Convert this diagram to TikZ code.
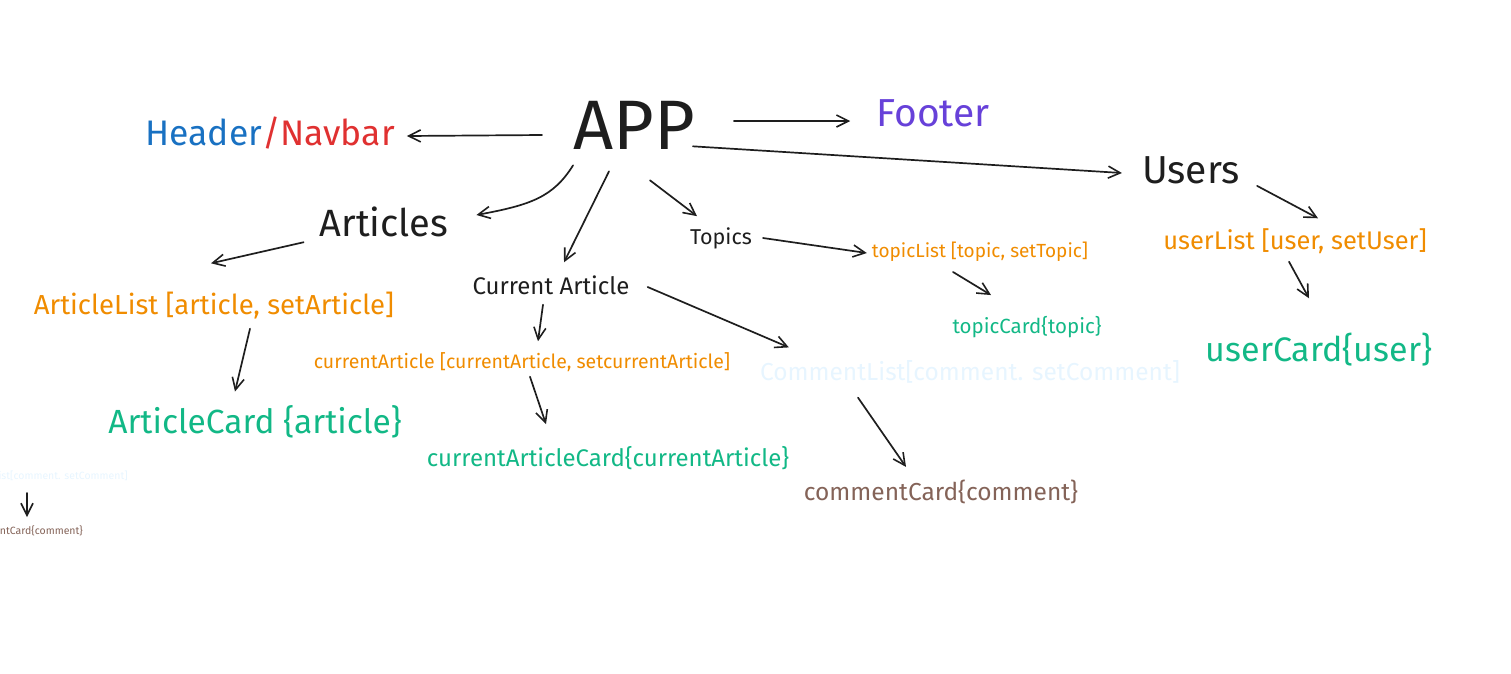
\documentclass[tikz,border=0pt]{standalone}
\usepackage{fontspec}
\setmainfont{Fira Sans}
\usepackage{xcolor}
\usepackage{tikz}
\usetikzlibrary{calc,arrows.meta}

\definecolor{ink}{HTML}{1E1E1E}
\definecolor{hblue}{HTML}{1971C2}
\definecolor{nred}{HTML}{E03131}
\definecolor{fpurple}{HTML}{6741D9}
\definecolor{lorange}{HTML}{F08C00}
\definecolor{cgreen}{HTML}{12B886}
\definecolor{cbrown}{HTML}{846358}
\definecolor{faint}{HTML}{E7F5FF}
\newcommand{\fsz}[1]{\fontsize{#1}{#1}\selectfont}

\begin{document}
\begin{tikzpicture}[x=1pt, y=-1pt,
		lbl/.style={inner sep=0pt, text=ink},
		arr/.style={draw=ink, line width=1.7pt, line cap=round,
			-{Straight Barb[length=12pt, width=12pt, line width=1.6pt]}}]
			\useasboundingbox (0,0) rectangle (1511,673);
			% top row
			\node[lbl, font=\fsz{70}] (app) at (634,125) {APP};
			\node[lbl, font=\fsz{35.5}] (header) at (270,133) {{\color{hblue}Header}{\color{nred}/Navbar}};
			\node[lbl, font=\fsz{39}, text=fpurple] (footer) at (933,113) {Footer};
			\node[lbl, font=\fsz{39}] (users) at (1191,170) {Users};
			% second row
			\node[lbl, font=\fsz{38}] (articles) at (384,222) {Articles};
			\node[lbl, font=\fsz{21.5}] (topics) at (721,238) {Topics};
			\node[lbl, font=\fsz{24}] (curart) at (551,285) {Current Article};
			% lists
			\node[lbl, font=\fsz{27.5}, text=lorange] (artlist) at (214,306) {ArticleList [article, setArticle]};
			\node[lbl, font=\fsz{19}, text=lorange] (topiclist) at (980,252) {topicList [topic, setTopic]};
			\node[lbl, font=\fsz{25.5}, text=lorange] (userlist) at (1295,241) {userList [user, setUser]};
			\node[lbl, font=\fsz{19.5}, text=lorange] (curlist) at (522,362) {currentArticle [currentArticle, setcurrentArticle]};
			\node[lbl, font=\fsz{24.5}, text=faint] (commentlist) at (970,372) {CommentList[comment. setComment]};
			% cards
			\node[lbl, font=\fsz{20.5}, text=cgreen] (topiccard) at (1027,327) {topicCard\{topic\}};
			\node[lbl, font=\fsz{34}, text=cgreen] (usercard) at (1319,350) {userCard\{user\}};
			\node[lbl, font=\fsz{33.5}, text=cgreen] (artcard) at (255,422) {ArticleCard \{article\}};
			\node[lbl, font=\fsz{24}, text=cgreen] (curcard) at (608,458) {currentArticleCard\{currentArticle\}};
			\node[lbl, font=\fsz{24.5}, text=cbrown] (commentcard) at (941,492) {commentCard\{comment\}};
			% small copy at the left edge
			\node[lbl, font=\fsz{10.5}, text=faint, anchor=east] (smalllist) at (128,476) {CommentList[comment. setComment]};
			\node[lbl, font=\fsz{10.5}, text=cbrown, anchor=east] (smallcard) at (83,531) {commentCard\{comment\}};

			% arrows
			\draw[arr] ($(app.west)+(-31,10)$) -- ($(header.east)+(12,3)$);
			\draw[arr] ($(app.east)+(39,-4)$) -- ($(footer.west)+(-26,8)$);
			\draw[arr] ($(app.south east)+(-2,-3)$) -- ($(users.west)+(-20,3)$);
			\draw[arr] ($(app.south west)+(0,16)$) .. controls +(-20,32) and +(54,-10) .. ($(articles.east)+(28,-7)$);
			\draw[arr] ($(app.south)+(-25,22)$) -- ($(curart.north)+(13,-13)$);
			\draw[arr] ($(app.south)+(16,31)$) -- ($(topics.north)+(-24,-11)$);
			\draw[arr] ($(articles.south west)+(-16,5)$) -- ($(artlist.north)+(-3,-29)$);
			\draw[arr] ($(topics.east)+(11,0)$) -- ($(topiclist.west)+(-5,1)$);
			\draw[arr] ($(users.south east)+(17,2)$) -- ($(userlist.north)+(23,-10)$);
			\draw[arr] ($(userlist.south)+(-6,8)$) -- ($(usercard.north)+(-10,-35)$);
			\draw[arr] ($(topiclist.south)+(-27,10)$) -- ($(topiccard.north)+(-36,-21)$);
			\draw[arr] ($(artlist.south)+(36,9)$) -- ($(artcard.north)+(-20,-14)$);
			\draw[arr] ($(curart.south)+(-8,10)$) -- ($(curlist.north)+(16,-11)$);
			\draw[arr] ($(curart.east)+(18,2)$) -- ($(commentlist.north west)+(29,-13)$);
			\draw[arr] ($(curlist.south)+(8,5)$) -- ($(curcard.north)+(-62,-22)$);
			\draw[arr] ($(commentlist.south)+(-112,14)$) -- ($(commentcard.north)+(-35,-13)$);
			\draw[arr] ($(smalllist.east)+(-101,17)$) -- ($(smallcard.east)+(-56,-14)$);
		\end{tikzpicture}
\end{document}
